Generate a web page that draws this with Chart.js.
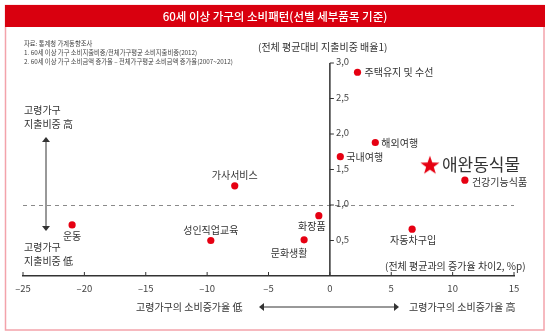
<!DOCTYPE html>
<html>
<head>
<meta charset="utf-8">
<script src="https://cdn.jsdelivr.net/npm/chart.js@4"></script>
<style>
  html, body { margin: 0; padding: 0; background: #fff; }
  #wrap { width: 550px; height: 334px; position: relative; }
</style>
</head>
<body>
<div id="wrap"><canvas id="c"></canvas></div>
<script>
// 품목별 값 (x: 전체 평균과의 증가율 차이 %p, y: 지출비중 배율)
const items = ['주택유지 및 수선', '해외여행', '국내여행', '가사서비스', '성인직업교육', '문화생활', '화장품', '운동', '자동차구입', '건강기능식품'];
const growthDiff = [2.25, 3.7, 0.85, -7.75, -9.7, -2.1, -0.9, -21.0, 6.7, 11.0];
const shareRatio = [2.87, 1.88, 1.68, 1.27, 0.50, 0.51, 0.85, 0.72, 0.66, 1.35];
const petItem = ['애완동식물'];
const petGrowth = [8.15];
const petShare = [1.56];
const xTicks = [-25, -20, -15, -10, -5, 0, 5, 10, 15];
const yTicks = [0.5, 1.0, 1.5, 2.0, 2.5, 3.0];

const FONT = '"Noto Sans CJK KR", "Noto Sans", sans-serif';
const RED = '#e60012';
const INK = '#333';

// 라벨 배치 [정렬, dx, dy]
const labelPlace = [
  ['left', 7, 0], ['left', 6, 1], ['left', 6, 0], ['center', 0, -11], ['center', 0, -10],
  ['center', -15, 13], ['center', -7, 11], ['center', 0, 11], ['center', 1, 11], ['left', 7, 2]
];

// 별 모양 마커
const star = document.createElement('canvas');
star.width = 24; star.height = 24;
const sc = star.getContext('2d');
sc.fillStyle = RED;
sc.beginPath();
for (let i = 0; i < 10; i++) {
  const r = i % 2 ? 4.0 : 10;
  const a = -Math.PI / 2 + i * Math.PI / 5;
  sc.lineTo(12 + r * Math.cos(a), 12.5 + r * Math.sin(a));
}
sc.closePath();
sc.fill();

function arrowHead(ctx, x, y, dir) {
  ctx.beginPath();
  if (dir === 'up') { ctx.moveTo(x, y); ctx.lineTo(x - 4, y + 5); ctx.lineTo(x + 4, y + 5); }
  if (dir === 'down') { ctx.moveTo(x, y); ctx.lineTo(x - 4, y - 5); ctx.lineTo(x + 4, y - 5); }
  if (dir === 'left') { ctx.moveTo(x, y); ctx.lineTo(x + 5, y - 4); ctx.lineTo(x + 5, y + 4); }
  if (dir === 'right') { ctx.moveTo(x, y); ctx.lineTo(x - 5, y - 4); ctx.lineTo(x - 5, y + 4); }
  ctx.closePath();
  ctx.fill();
}

const decor = {
  id: 'decor',
  beforeDraw(chart) {
    const ctx = chart.ctx;
    ctx.save();
    ctx.fillStyle = '#fff';
    ctx.fillRect(0, 0, chart.width, chart.height);
    ctx.strokeStyle = '#f3a3ab';
    ctx.lineWidth = 1.5;
    ctx.strokeRect(5.5, 5.5, 538.5, 324.5);
    ctx.fillStyle = '#d9000f';
    ctx.fillRect(5, 5, 540, 22);
    ctx.fillStyle = '#fff';
    ctx.font = '500 11.5px ' + FONT;
    ctx.textAlign = 'center';
    ctx.textBaseline = 'middle';
    ctx.fillText('60세 이상 가구의 소비패턴(선별 세부품목 기준)', 275, 16.5);

    // 출처 및 주석
    ctx.fillStyle = '#444';
    ctx.font = '6.3px ' + FONT;
    ctx.textAlign = 'left';
    ctx.fillText('자료: 통계청 가계동향조사', 24, 44);
    ctx.fillText('1. 60세 이상 가구 소비지출비중/전체가구평균 소비지출비중(2012)', 24, 53);
    ctx.fillText('2. 60세 이상 가구 소비금액 증가율 – 전체가구평균 소비금액 증가율(2007~2012)', 24, 62);
    ctx.restore();
  },
  beforeDatasetsDraw(chart) {
    const ctx = chart.ctx;
    const x = chart.scales.x, y = chart.scales.y;
    const x0 = x.getPixelForValue(0);
    ctx.save();
    // 기준선 1.0
    ctx.strokeStyle = '#8a8a8a';
    ctx.lineWidth = 1;
    ctx.setLineDash([4, 4]);
    ctx.beginPath();
    const yy = Math.round(y.getPixelForValue(1.0)) + 0.5;
    ctx.moveTo(x.left, yy);
    ctx.lineTo(x.right, yy);
    ctx.stroke();
    ctx.setLineDash([]);

    // 세로축
    ctx.strokeStyle = INK;
    ctx.lineWidth = 1.5;
    ctx.beginPath();
    ctx.moveTo(x0, y.getPixelForValue(3.0));
    ctx.lineTo(x0, y.bottom);
    ctx.stroke();
    ctx.lineWidth = 1;
    ctx.font = '9.5px ' + FONT;
    ctx.fillStyle = '#444';
    ctx.textAlign = 'left';
    ctx.textBaseline = 'middle';
    yTicks.forEach(v => {
      const py = y.getPixelForValue(v);
      ctx.beginPath();
      ctx.moveTo(x0, py);
      ctx.lineTo(x0 + 4, py);
      ctx.stroke();
      ctx.fillText(v.toFixed(1).replace('.', ','), x0 + 6, py - 1.5);
    });
    // 가로축 눈금 (위쪽)
    xTicks.forEach(v => {
      const px = x.getPixelForValue(v);
      ctx.beginPath();
      ctx.moveTo(px, y.bottom);
      ctx.lineTo(px, y.bottom - 4);
      ctx.stroke();
    });
    ctx.restore();
  },
  afterDraw(chart) {
    const ctx = chart.ctx;
    ctx.save();
    ctx.fillStyle = INK;
    ctx.textBaseline = 'middle';

    // 점 라벨
    const meta = chart.getDatasetMeta(0);
    ctx.font = '10px ' + FONT;
    meta.data.forEach((pt, i) => {
      const [al, dx, dy] = labelPlace[i];
      ctx.textAlign = al;
      ctx.fillText(items[i], pt.x + dx, pt.y + dy);
    });
    const sp = chart.getDatasetMeta(1).data[0];
    ctx.font = '17px ' + FONT;
    ctx.textAlign = 'left';
    ctx.fillText(petItem[0], sp.x + 12, sp.y - 1);

    // 축 제목
    ctx.font = '10px ' + FONT;
    ctx.fillText('(전체 평균대비 지출비중 배율1)', 258, 47);
    ctx.fillText('(전체 평균과의 증가율 차이2, %p)', 385, 266);

    // 왼쪽 설명
    ctx.fillText('고령가구', 24, 110);
    ctx.fillText('지출비중 高', 24, 124);
    ctx.fillText('고령가구', 24, 247);
    ctx.fillText('지출비중 低', 24, 261);
    ctx.strokeStyle = INK;
    ctx.lineWidth = 1;
    ctx.beginPath();
    ctx.moveTo(46, 140);
    ctx.lineTo(46, 228);
    ctx.stroke();
    arrowHead(ctx, 46, 137, 'up');
    arrowHead(ctx, 46, 231, 'down');

    // 아래 설명
    ctx.fillText('고령가구의 소비증가율 低', 136, 307);
    ctx.fillText('고령가구의 소비증가율 高', 409, 307);
    ctx.beginPath();
    ctx.moveTo(262, 307);
    ctx.lineTo(396, 307);
    ctx.stroke();
    arrowHead(ctx, 259, 307, 'left');
    arrowHead(ctx, 399, 307, 'right');
    ctx.restore();
  }
};

new Chart(document.getElementById('c'), {
  type: 'scatter',
  data: {
    datasets: [
      {
        label: '품목',
        data: growthDiff.map((v, i) => ({ x: v, y: shareRatio[i] })),
        backgroundColor: RED,
        borderWidth: 0,
        pointRadius: 3.6
      },
      {
        label: petItem[0],
        data: petGrowth.map((v, i) => ({ x: v, y: petShare[i] })),
        pointStyle: star,
        pointRadius: 10
      }
    ]
  },
  options: {
    responsive: true,
    maintainAspectRatio: false,
    animation: false,
    layout: { padding: { left: 23, right: 36, top: 63, bottom: 0 } },
    plugins: {
      legend: { display: false },
      tooltip: { enabled: false }
    },
    scales: {
      x: {
        type: 'linear',
        min: -25,
        max: 15,
        afterBuildTicks: s => { s.ticks = xTicks.map(v => ({ value: v })); },
        afterFit: s => { s.height = 58; },
        grid: { display: false, drawTicks: false },
        border: { display: true, color: INK, width: 1.5 },
        ticks: {
          padding: 7,
          color: '#444',
          font: { family: FONT, size: 9.5 },
          maxRotation: 0,
          callback: v => v < 0 ? '–' + Math.abs(v) : String(v)
        }
      },
      y: {
        type: 'linear',
        min: 0,
        max: 3.0,
        display: false
      }
    }
  },
  plugins: [decor]
});
</script>
</body>
</html>
